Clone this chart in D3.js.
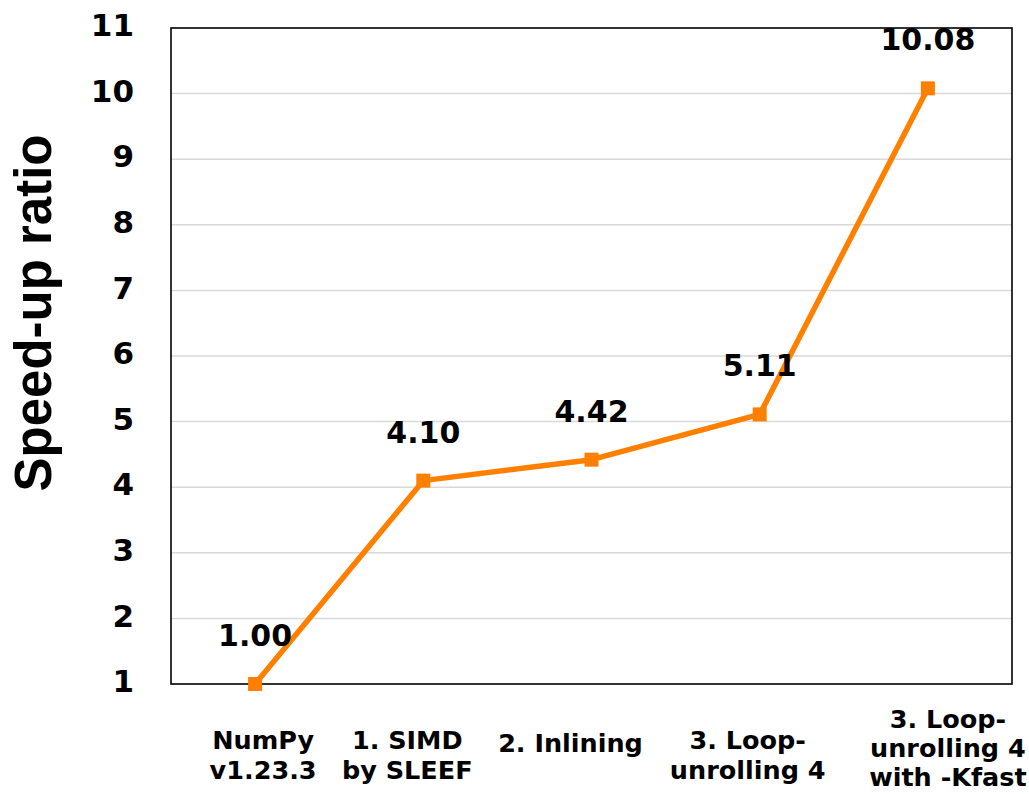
<!DOCTYPE html>
<html>
<head>
<meta charset="utf-8">
<script src="https://cdn.jsdelivr.net/npm/d3@7"></script>
<style>
  html, body { margin: 0; padding: 0; background: #fff; }
  svg { display: block; }
</style>
</head>
<body>
<svg id="chart" width="1029" height="794"></svg>
<script>
// Speed-up of each optimisation step relative to NumPy
const categories = [
  ["NumPy", "v1.23.3"],
  ["1. SIMD", "by SLEEF"],
  ["2. Inlining"],
  ["3. Loop-", "unrolling 4"],
  ["3. Loop-", "unrolling 4", "with -Kfast"]
];
const speedup = [1.00, 4.10, 4.42, 5.11, 10.08];
const valueLabels = ["1.00", "4.10", "4.42", "5.11", "10.08"];
const yTicks = [1, 2, 3, 4, 5, 6, 7, 8, 9, 10, 11];

const W = 1029, H = 794;
const plot = { left: 171, right: 1012, top: 28, bottom: 684 };
const orange = "#FF8000";
const textFont = "'DejaVu Sans', Verdana, sans-serif";

// layout of the wrapped category labels: horizontal nudge per label,
// first baseline and line spacing by number of lines
const catNudge = [8, -16, -21, -12, 20];
const catFirstBaseline = { 1: 752, 2: 749, 3: 728 };
const catLineHeight = { 1: 30, 2: 30, 3: 29 };

const svg = d3.select("#chart");
svg.append("rect").attr("width", W).attr("height", H).attr("fill", "#fff");

const keys = categories.map((c, i) => i);
const x = d3.scaleBand().domain(keys).range([plot.left, plot.right]);
const y = d3.scaleLinear().domain([1, 11]).range([plot.bottom, plot.top]);
const cx = i => x(i) + x.bandwidth() / 2;

// horizontal gridlines
svg.append("g")
  .selectAll("line")
  .data(yTicks.filter(t => t > 1 && t < 11))
  .join("line")
  .attr("x1", plot.left).attr("x2", plot.right)
  .attr("y1", d => y(d)).attr("y2", d => y(d))
  .attr("stroke", "#d9d9d9").attr("stroke-width", 1.5);

// plot frame
svg.append("rect")
  .attr("x", plot.left).attr("y", plot.top)
  .attr("width", plot.right - plot.left).attr("height", plot.bottom - plot.top)
  .attr("fill", "none").attr("stroke", "#000").attr("stroke-width", 1.6);

// y axis tick labels
const yAxis = d3.axisLeft(y).tickValues(yTicks).tickSize(0).tickPadding(37).tickFormat(d3.format("d"));
const gy = svg.append("g").attr("transform", `translate(${plot.left},0)`).call(yAxis);
gy.select(".domain").remove();
gy.selectAll("text")
  .attr("font-family", textFont).attr("font-weight", "bold")
  .attr("font-size", 31).attr("fill", "#000")
  .attr("dy", "0.25em");

// y axis title
svg.append("text")
  .attr("transform", "translate(51,313) rotate(-90)")
  .attr("text-anchor", "middle")
  .attr("font-family", "'Liberation Sans', Arial, sans-serif")
  .attr("font-weight", "bold").attr("font-size", 51)
  .attr("fill", "#000")
  .text("Speed-up ratio");

// category labels (wrapped)
const cat = svg.append("g").selectAll("text").data(categories).join("text")
  .attr("text-anchor", "middle")
  .attr("font-family", textFont).attr("font-weight", "bold")
  .attr("font-size", 25.5).attr("fill", "#000")
  .attr("y", d => catFirstBaseline[d.length]);
cat.each(function(lines, i) {
  const lh = catLineHeight[lines.length];
  d3.select(this).selectAll("tspan").data(lines).join("tspan")
    .attr("x", cx(i) + catNudge[i])
    .attr("dy", (l, j) => j === 0 ? 0 : lh)
    .text(l => l);
});

// series line
const line = d3.line().x((d, i) => cx(i)).y(d => y(d));
svg.append("path")
  .datum(speedup)
  .attr("d", line)
  .attr("fill", "none").attr("stroke", orange)
  .attr("stroke-width", 5.5).attr("stroke-linejoin", "round");

// square markers
const ms = 14;
svg.append("g").selectAll("rect").data(speedup).join("rect")
  .attr("x", (d, i) => cx(i) - ms / 2)
  .attr("y", d => y(d) - ms / 2)
  .attr("width", ms).attr("height", ms)
  .attr("fill", orange);

// value labels above points
svg.append("g").selectAll("text").data(speedup).join("text")
  .attr("x", (d, i) => cx(i))
  .attr("y", d => y(d) - 38)
  .attr("text-anchor", "middle")
  .attr("font-family", textFont).attr("font-weight", "bold")
  .attr("font-size", 30).attr("fill", "#000")
  .text((d, i) => valueLabels[i]);
</script>
</body>
</html>
